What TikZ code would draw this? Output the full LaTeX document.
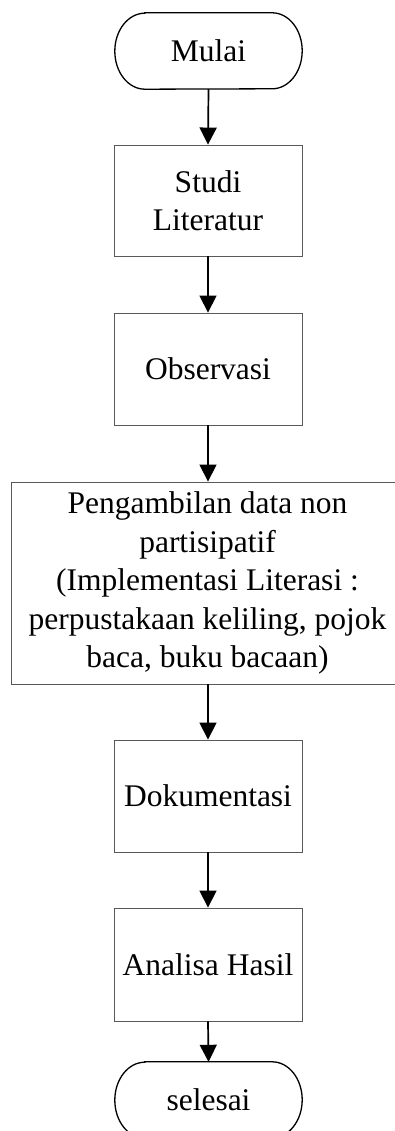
\documentclass[tikz,border=0pt]{standalone}
\usepackage{fontspec}
\setmainfont{Liberation Serif}
\usetikzlibrary{arrows.meta}
\begin{document}
\begin{tikzpicture}[x=1pt,y=-1pt,
  txt/.style={font=\fontsize{31.5}{38.5}\selectfont, align=center, inner sep=0pt},
  proc/.style={txt, draw=black!65, line width=0.9pt, minimum width=188pt},
  term/.style={txt, minimum width=187pt, minimum height=76pt},
  termline/.style={line width=1.3pt},
  flow/.style={line width=1.7pt, -{Triangle[length=17pt,width=17pt]}}]
\useasboundingbox (0,0) rectangle (395,1131);
\node[term] (mulai) at (208.5,51) {Mulai};
\draw[termline] ([xshift=30pt]mulai.north west) -- ([xshift=-30pt]mulai.north east)
  arc[start angle=90,end angle=-90,x radius=30pt,y radius=38pt]
  -- ([xshift=30pt]mulai.south west)
  arc[start angle=270,end angle=90,x radius=30pt,y radius=38pt] -- cycle;
\node[proc, minimum height=111pt] (studi) at (208,200.5) {Studi\\Literatur};
\node[proc, minimum height=112pt] (obs) at (208,369) {Observasi};
\node[proc, minimum width=393pt, minimum height=202pt] (ambil) at (207.5,583)
  {Pengambilan data non\\partisipatif\\(Implementasi Literasi :\\perpustakaan keliling, pojok\\baca, buku bacaan)};
\node[proc, minimum height=112pt] (dok) at (208,796) {Dokumentasi};
\node[proc, minimum height=113pt] (anal) at (208,964.5) {Analisa Hasil};
\node[term] (selesai) at (208.5,1100) {selesai};
\draw[termline] ([xshift=30pt]selesai.north west) -- ([xshift=-30pt]selesai.north east)
  arc[start angle=90,end angle=-90,x radius=30pt,y radius=38pt]
  -- ([xshift=30pt]selesai.south west)
  arc[start angle=270,end angle=90,x radius=30pt,y radius=38pt] -- cycle;
\draw[flow] (mulai.south) -- (studi.north);
\draw[flow] (studi.south) -- (obs.north);
\draw[flow] (obs.south) -- (obs.south |- ambil.north);
\draw[flow] (obs.south |- ambil.south) -- (dok.north);
\draw[flow] (dok.south) -- (anal.north);
\draw[flow] (anal.south) -- (selesai.north);
\end{tikzpicture}
\end{document}
